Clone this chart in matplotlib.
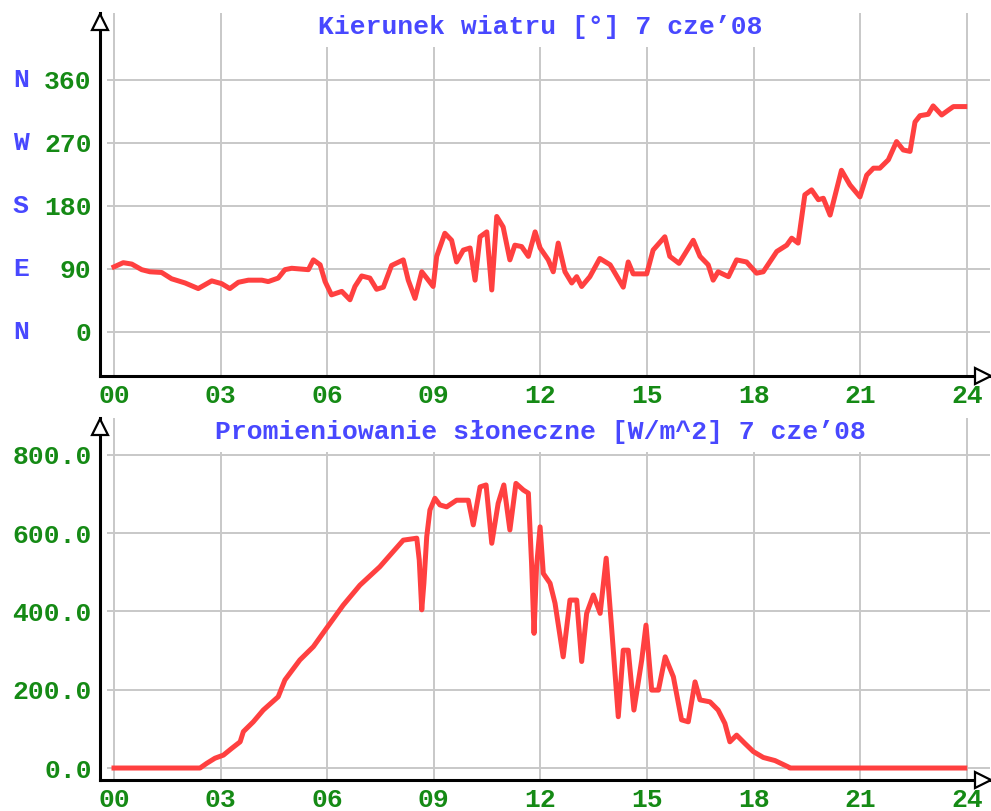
"""
Wind direction and solar radiation for one day (7 cze'08), two stacked panels.
"""
import matplotlib
matplotlib.use("Agg")
import matplotlib.pyplot as plt
import matplotlib.transforms as mtransforms

RED = "#ff4040"
GREEN = "#158a15"
BLUE = "#4848ff"
GRID = "#c8c8c8"
FONT = "Liberation Mono"

# wind direction [deg] vs hour
wind_h = [0.0, 0.26, 0.50, 0.78, 1.01, 1.34, 1.62, 2.0, 2.37, 2.75, 3.03, 3.26, 3.5, 3.78,
          4.16, 4.34, 4.62, 4.81, 5.0, 5.47, 5.61, 5.8, 5.94, 6.12, 6.41, 6.64, 6.78, 6.97,
          7.2, 7.39, 7.58, 7.81, 8.14, 8.28, 8.47, 8.66, 8.8, 8.98, 9.08, 9.31, 9.5, 9.64,
          9.83, 10.02, 10.16, 10.3, 10.49, 10.63, 10.77, 10.95, 11.14, 11.28, 11.47, 11.66,
          11.85, 11.99, 12.22, 12.36, 12.5, 12.69, 12.88, 13.02, 13.16, 13.39, 13.67, 13.96,
          14.33, 14.47, 14.61, 14.99, 15.17, 15.5, 15.64, 15.9, 16.3, 16.49, 16.72, 16.86,
          17.0, 17.29, 17.52, 17.8, 18.08, 18.27, 18.65, 18.93, 19.07, 19.25, 19.44, 19.63,
          19.82, 19.96, 20.15, 20.47, 20.71, 20.99, 21.18, 21.37, 21.55, 21.79, 22.02, 22.21,
          22.4, 22.54, 22.68, 22.91, 23.05, 23.29, 23.48, 23.62, 23.94]
wind_deg = [93, 99, 97, 89, 86, 85, 76, 70, 62, 73, 69, 62, 71, 74,
            74, 72, 77, 89, 91, 89, 103, 96, 72, 53, 58, 46, 65, 80,
            77, 61, 64, 95, 103, 74, 48, 86, 77, 65, 108, 141, 131, 100,
            117, 120, 74, 136, 143, 60, 165, 150, 103, 124, 122, 108,
            143, 120, 103, 86, 127, 86, 70, 79, 65, 79, 105, 96,
            64, 100, 83, 83, 117, 136, 108, 98, 131, 108, 96, 74,
            86, 79, 103, 100, 84, 86, 115, 124, 134, 127, 196, 203,
            189, 191, 167, 231, 210, 193, 224, 234, 234, 246, 272, 260,
            258, 300, 309, 311, 323, 310, 317, 322, 322]

# solar radiation [W/m^2] vs hour
sun_h = [0.0, 2.42, 2.61, 2.84, 3.08, 3.31, 3.55, 3.64, 3.92, 4.2, 4.62, 4.81, 5.23, 5.61,
         5.98, 6.45, 6.92, 7.48, 7.77, 8.14, 8.52, 8.59, 8.66, 8.72, 8.8, 8.89, 9.03, 9.17,
         9.36, 9.64, 9.97, 10.11, 10.3, 10.47, 10.63, 10.81, 10.97, 11.14, 11.31, 11.52,
         11.66, 11.75, 11.82, 11.89, 11.99, 12.08, 12.27, 12.41, 12.64, 12.83, 13.02, 13.16,
         13.3, 13.49, 13.68, 13.85, 14.0, 14.19, 14.33, 14.47, 14.63, 14.85, 14.97, 15.13,
         15.32, 15.51, 15.74, 15.97, 16.16, 16.35, 16.49, 16.77, 17.0, 17.19, 17.33, 17.52,
         17.75, 17.99, 18.27, 18.6, 18.97, 19.02, 23.94]
sun_w = [0, 0, 12, 25, 33, 50, 67, 93, 118, 148, 182, 225, 276, 310,
         357, 416, 467, 514, 544, 582, 587, 531, 404, 472, 591, 659, 689, 672,
         667, 684, 684, 621, 718, 723, 574, 676, 723, 608, 727, 710,
         702, 523, 344, 514, 616, 497, 472, 421, 284, 429, 429, 272,
         395, 442, 395, 536, 361, 131, 301, 301, 148, 276, 365, 199,
         199, 284, 233, 123, 118, 220, 174, 169, 148, 114, 67, 84,
         63, 42, 27, 19, 3, 0, 0]

hour_ticks = list(range(0, 25, 3))
hour_labels = [f"{h:02d}" for h in hour_ticks]
wind_ticks = [0, 90, 180, 270, 360]
wind_compass = ["N", "E", "S", "W", "N"]
sun_ticks = [0, 200, 400, 600, 800]

W, H = 991, 811
fig = plt.figure(figsize=(W / 100, H / 100), dpi=100)


def px_axes(left, right, top, bottom):
    return fig.add_axes([left / W, 1 - bottom / H, (right - left) / W, (bottom - top) / H])


def style(ax, yticks, ylabels, title):
    ax.set_xlim(-0.394, 24.65)
    x0, x1 = ax.get_xlim()
    for s in ("top", "right"):
        ax.spines[s].set_visible(False)
    for s in ("left", "bottom"):
        ax.spines[s].set_linewidth(2.2)
        ax.spines[s].set_color("black")
        ax.spines[s].set_zorder(5)
    ax.set_xticks(hour_ticks)
    ax.set_xticklabels(hour_labels)
    ax.set_yticks(yticks)
    ax.set_yticklabels(ylabels)
    ax.tick_params(length=0, labelsize=19, labelcolor=GREEN)
    ax.tick_params(axis="x", pad=6)
    ax.tick_params(axis="y", pad=6)
    for lab in ax.get_xticklabels() + ax.get_yticklabels():
        lab.set_fontfamily(FONT)
        lab.set_fontweight("bold")
    ax.vlines(hour_ticks, *ax.get_ylim(), color=GRID, lw=1.4, zorder=1)
    ax.hlines(yticks, -0.2, x1, color=GRID, lw=1.4, zorder=1)
    ax.text(12, 0.961, title, transform=mtransforms.blended_transform_factory(ax.transData, ax.transAxes),
            ha="center", va="center", color=BLUE, fontsize=19, fontfamily=FONT, fontweight="bold",
            zorder=4, bbox=dict(boxstyle="square,pad=0.3", fc="white", ec="none"))
    ax.plot([0], [0.975], transform=ax.transAxes, marker="^", ms=11, mfc="white", mec="black",
            mew=1.6, clip_on=False, zorder=6)
    ax.plot([0.992], [0], transform=ax.transAxes, marker=">", ms=11, mfc="white", mec="black",
            mew=1.6, clip_on=False, zorder=6)


# top panel: wind direction
ax1 = px_axes(100, 990, 13, 376)
ax1.set_ylim(-62.9, 455.7)
ax1.plot(wind_h, wind_deg, color=RED, lw=3.6, zorder=3)
style(ax1, wind_ticks, [str(v) for v in wind_ticks], "Kierunek wiatru [°] 7 cze’08")
trans = mtransforms.blended_transform_factory(ax1.transAxes, ax1.transData)
for v, c in zip(wind_ticks, wind_compass):
    ax1.text(-0.0978, v, c, transform=trans, ha="left", va="center", color=BLUE,
             fontsize=19, fontfamily=FONT, fontweight="bold")

# bottom panel: solar radiation
ax2 = px_axes(100, 990, 418, 780)
ax2.set_ylim(-30.6, 894)
ax2.plot(sun_h, sun_w, color=RED, lw=3.6, zorder=3)
style(ax2, sun_ticks, [f"{v:.1f}" for v in sun_ticks], "Promieniowanie słoneczne [W/m^2] 7 cze’08")

fig.savefig("out.png", dpi=100, facecolor="white")
